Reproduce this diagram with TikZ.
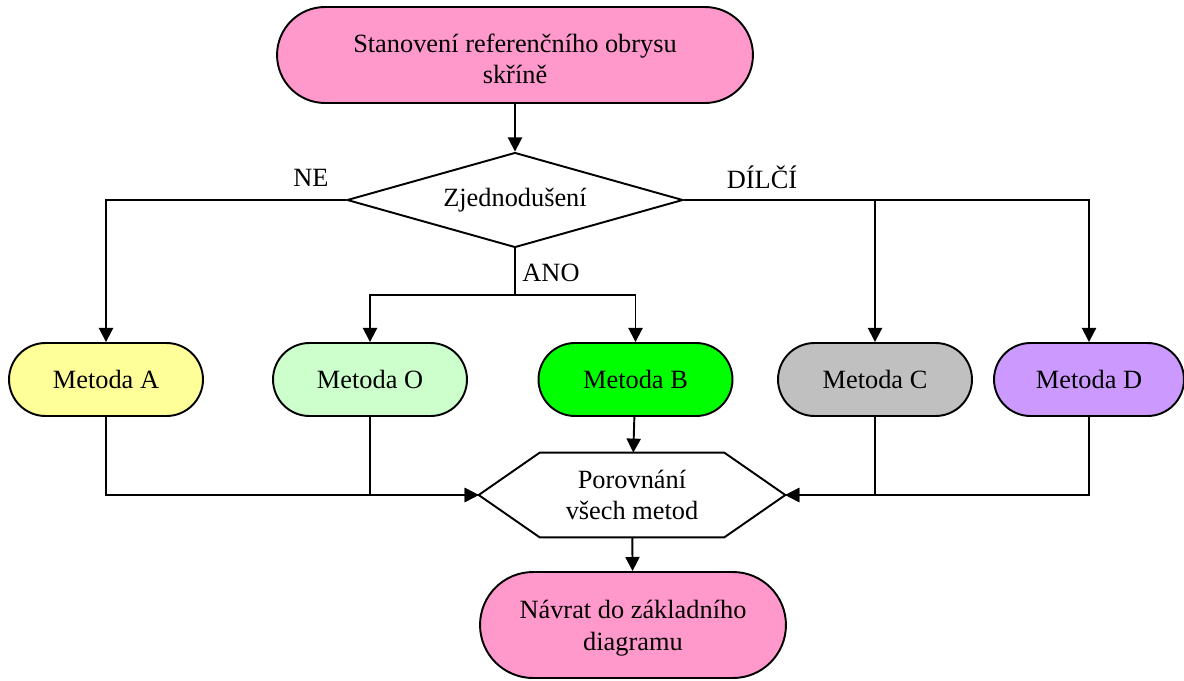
\documentclass[tikz,border=0pt]{standalone}
\usepackage{fontspec}
\setmainfont{Liberation Serif}
\usetikzlibrary{shapes.misc,shapes.geometric,arrows.meta,calc}
\definecolor{pinkc}{HTML}{FF99CC}
\definecolor{yelc}{HTML}{FFFF99}
\definecolor{lgrn}{HTML}{CCFFCC}
\definecolor{grn}{HTML}{00FF00}
\definecolor{gryc}{HTML}{C0C0C0}
\definecolor{purc}{HTML}{CC99FF}
\tikzset{
  pill/.style={rounded rectangle, draw, line width=1.1pt, align=center, inner sep=0pt},
  meth/.style={pill, minimum width=3.88cm, minimum height=1.46cm},
  conn/.style={line width=1.1pt},
  arr/.style={conn, -{Triangle[length=8pt,width=8pt]}},
  lbl/.style={inner sep=0pt}
}
\begin{document}
\begin{tikzpicture}[x=0.02cm,y=-0.02cm,font=\fontsize{15}{18}\selectfont]
\useasboundingbox (0,0) rectangle (1184,680);
\node[pill, fill=pinkc, minimum width=9.52cm, minimum height=1.92cm] (top) at (515,55) {};
\node[align=center, inner sep=0pt] (topt) at (515,59) {Stanovení referenčního obrysu\\skříně};
\node[diamond, draw, line width=1.1pt, aspect=3.5, inner sep=0pt, minimum width=6.72cm, minimum height=1.9cm] (dia) at (515,200) {Zjednodušení};
\node[meth, fill=yelc] (A) at (106,379.5) {Metoda A};
\node[meth, fill=lgrn] (O) at (370,379.5) {Metoda O};
\node[meth, fill=grn] (B) at (635.5,379.5) {Metoda B};
\node[meth, fill=gryc] (C) at (875,379.5) {Metoda C};
\node[meth, fill=purc, minimum width=3.8cm] (D) at (1089,379.5) {Metoda D};
\node[rectangle, inner sep=0pt, minimum width=6.12cm, minimum height=1.68cm] (hex) at (632,495) {};
\draw[line width=1.1pt, fill=white] (hex.west) -- ($(hex.north west)+(61,0)$) -- ($(hex.north east)+(-61,0)$) -- (hex.east) -- ($(hex.south east)+(-61,0)$) -- ($(hex.south west)+(61,0)$) -- cycle;
\node[align=center, inner sep=0pt] (hext) at (hex.center) {Porovnání\\všech metod};
\node[pill, fill=pinkc, minimum width=6.12cm, minimum height=2.12cm] (bot) at (633,625) {};
\node[align=center, inner sep=0pt] (bott) at (633,628) {Návrat do základního\\diagramu};
\node[lbl] (ne) at (311,178) {NE};
\node[lbl] (dil) at (762,177) {DÍLČÍ};
\node[lbl] (ano) at (551,273) {ANO};
\coordinate (j) at (515,295);
\draw[arr] (top) -- (dia);
\draw[arr] (dia.west) -| (A);
\draw[arr] (dia.east) -| (C);
\draw[arr] (dia.east) -| (D);
\draw[conn] (dia.south) -- (j);
\draw[arr] (j) -| (O);
\draw[arr] (j) -| (B);
\draw[arr] (B) -- (hex);
\draw[arr] (A.south) |- (hex.west);
\draw[arr] (O.south) |- (hex.west);
\draw[arr] (D.south) |- (hex.east);
\draw[arr] (C.south) |- (hex.east);
\draw[arr] (hex) -- (bot);
\end{tikzpicture}
\end{document}
